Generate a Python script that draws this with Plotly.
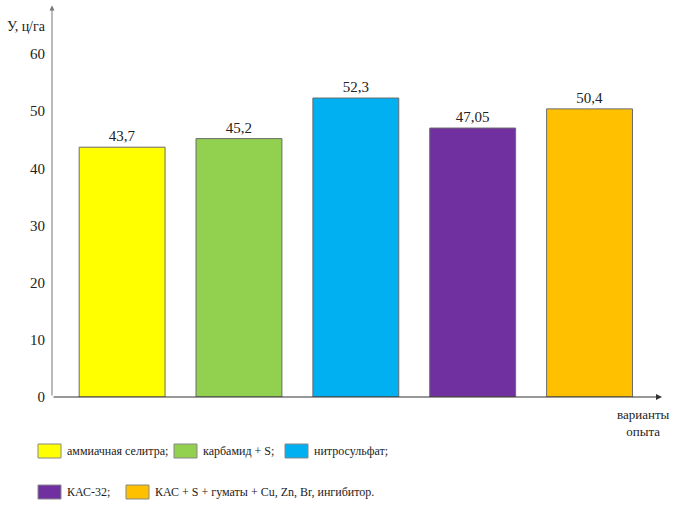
import plotly.graph_objects as go

# Yield by experiment variant
variants = ["аммиачная селитра;", "карбамид + S;", "нитросульфат;",
            "КАС-32;", "КАС + S + гуматы + Cu, Zn, Br, ингибитор."]
yields = [43.7, 45.2, 52.3, 47.05, 50.4]
value_labels = ["43,7", "45,2", "52,3", "47,05", "50,4"]
colors = ["#FFFF00", "#92D050", "#00B0F0", "#7030A0", "#FFC000"]
y_ticks = [0, 10, 20, 30, 40, 50, 60]

FONT = "Liberation Serif"
W, H = 676, 506
ML, MR, MT, MB = 52, 14, 14, 109
PW, PH = W - ML - MR, H - MT - MB


def px_x(x):
    return (x - ML) / PW


def px_y(y):
    return -(y - (H - MB)) / PH


fig = go.Figure()
fig.add_trace(go.Bar(
    x=list(range(len(variants))),
    y=yields,
    marker=dict(color=colors, line=dict(color="#6b6b6b", width=1)),
    text=value_labels,
    textposition="outside",
    textfont=dict(family=FONT, size=15, color="#222"),
    cliponaxis=False,
    width=0.735,
    showlegend=False,
))

annotations = []
# y axis arrow
annotations.append(dict(xref="paper", yref="y", x=0, y=68.5, axref="pixel", ayref="y",
                        ax=0, ay=0, showarrow=True, arrowhead=2, arrowsize=1,
                        arrowwidth=1, arrowcolor="#777", text=""))
# x axis arrow
annotations.append(dict(xref="paper", yref="y", x=1.0, y=0, axref="pixel", ayref="y",
                        ax=-PW, ay=0, showarrow=True, arrowhead=2, arrowsize=1,
                        arrowwidth=1.2, arrowcolor="#333", text=""))
# axis titles
annotations.append(dict(xref="paper", yref="paper", x=px_x(48), y=px_y(27),
                        xanchor="right", yanchor="middle", showarrow=False,
                        text="У, ц/га", font=dict(family=FONT, size=14, color="#222")))
annotations.append(dict(xref="paper", yref="paper", x=px_x(672), y=px_y(423),
                        xanchor="right", yanchor="middle", showarrow=False, align="center",
                        text="варианты<br>опыта", font=dict(family=FONT, size=13, color="#222")))

# legend drawn as boxes with captions, two rows
shapes = []
legend_pos = [(38, 451), (174, 451), (285, 451), (38, 492), (126, 492)]
for name, col, (lx, ly) in zip(variants, colors, legend_pos):
    shapes.append(dict(type="rect", xref="paper", yref="paper",
                       x0=px_x(lx), x1=px_x(lx + 23),
                       y0=px_y(ly + 7), y1=px_y(ly - 7),
                       fillcolor=col, line=dict(color="#888", width=1)))
    annotations.append(dict(xref="paper", yref="paper",
                            x=px_x(lx + 27), y=px_y(ly),
                            xanchor="left", yanchor="middle", showarrow=False, text=name,
                            font=dict(family=FONT, size=12, color="#222")))

fig.update_layout(
    width=W, height=H,
    margin=dict(l=ML, r=MR, t=MT, b=MB),
    paper_bgcolor="white", plot_bgcolor="white",
    xaxis=dict(range=[-0.6, 4.62], showticklabels=False, showgrid=False,
               zeroline=False, showline=False, ticks=""),
    yaxis=dict(range=[0, 67], tickvals=y_ticks, showgrid=False, zeroline=False,
               showline=False, ticks="", ticklabelstandoff=6,
               tickfont=dict(family=FONT, size=15, color="#222")),
    shapes=shapes,
    annotations=annotations,
)

fig.write_html("out.html")
